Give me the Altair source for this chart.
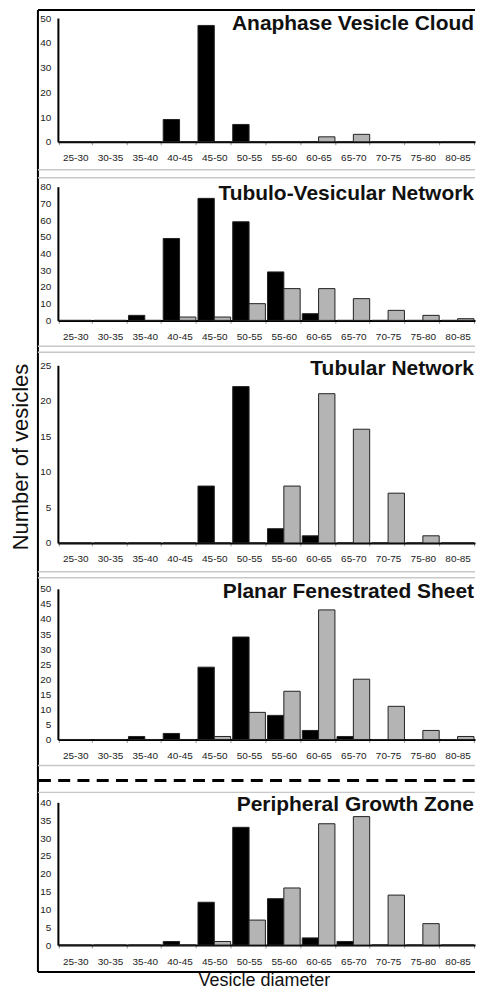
import altair as alt
import pandas as pd

categories = ["25-30", "30-35", "35-40", "40-45", "45-50", "50-55",
              "55-60", "60-65", "65-70", "70-75", "75-80", "80-85"]
series_names = ["black", "gray"]

titles = ["Anaphase Vesicle Cloud", "Tubulo-Vesicular Network", "Tubular Network",
          "Planar Fenestrated Sheet", "Peripheral Growth Zone"]

avc_black = [0, 0, 0, 9, 47, 7, 0, 0, 0, 0, 0, 0]
avc_gray = [0, 0, 0, 0, 0, 0, 0, 2, 3, 0, 0, 0]
tvn_black = [0, 0, 3, 49, 73, 59, 29, 4, 0, 0, 0, 0]
tvn_gray = [0, 0, 0, 2, 2, 10, 19, 19, 13, 6, 3, 1]
tn_black = [0, 0, 0, 0, 8, 22, 2, 1, 0, 0, 0, 0]
tn_gray = [0, 0, 0, 0, 0, 0, 8, 21, 16, 7, 1, 0]
pfs_black = [0, 0, 1, 2, 24, 34, 8, 3, 1, 0, 0, 0]
pfs_gray = [0, 0, 0, 0, 1, 9, 16, 43, 20, 11, 3, 1]
pgz_black = [0, 0, 0, 1, 12, 33, 13, 2, 1, 0, 0, 0]
pgz_gray = [0, 0, 0, 0, 1, 7, 16, 34, 36, 14, 6, 0]

y_max = [50, 80, 25, 50, 40]
y_step = [10, 10, 5, 5, 5]
x_title = "Vesicle diameter"
y_title = "Number of vesicles"

FONT = "Liberation Sans"
W = 418
heights = [124, 134, 178, 151, 143]
title_y = [12, 13, 10, 9, 9]


def panel_df(black, gray):
    rows = []
    for c, b, g in zip(categories, black, gray):
        rows.append({"cat": c, "series": "black", "count": b})
        rows.append({"cat": c, "series": "gray", "count": g})
    return pd.DataFrame(rows)


one = pd.DataFrame({"k": [0]})


def hrule(y, x0=-20, x1=W, color="#c8c8c8", width=1.5, dash=None):
    kw = dict(color=color, strokeWidth=width)
    if dash is not None:
        kw["strokeDash"] = dash
    return alt.Chart(one).mark_rule(**kw).encode(
        x=alt.value(x0), x2=alt.value(x1), y=alt.value(y))


def panel(i, black, gray):
    df = panel_df(black, gray)
    ymax = y_max[i]
    bars = alt.Chart(df).mark_bar(stroke="#222222", strokeWidth=1).encode(
        x=alt.X("cat:N", sort=categories,
                scale=alt.Scale(paddingInner=0.06, paddingOuter=0.03),
                axis=alt.Axis(title=None, labelAngle=0, domainColor="black",
                              domainWidth=2, tickColor="#999999", tickSize=3,
                              tickBand="extent", labelPadding=8, grid=False,
                              labelOverlap=False, labelFontSize=10,
                              labelFont=FONT, labelColor="#222222")),
        xOffset=alt.XOffset("series:N", sort=series_names,
                            scale=alt.Scale(paddingInner=0, paddingOuter=0)),
        y=alt.Y("count:Q", scale=alt.Scale(domain=[0, ymax], nice=False),
                axis=alt.Axis(title=None, values=list(range(0, ymax + 1, y_step[i])),
                              ticks=False, domainColor="black", domainWidth=2,
                              labelPadding=7, grid=False, labelFontSize=10,
                              labelFont=FONT, labelColor="#222222")),
        color=alt.Color("series:N", scale=alt.Scale(domain=series_names,
                                                    range=["#000000", "#b4b4b4"]),
                        legend=None),
    )
    ttl = alt.Chart(pd.DataFrame({"t": [titles[i]]})).mark_text(
        align="right", baseline="alphabetic", font=FONT, fontSize=21,
        fontWeight="bold", color="#111111").encode(
        text="t:N", x=alt.value(W - 1), y=alt.value(title_y[i]))
    return [bars, ttl]


p1 = panel(0, avc_black, avc_gray)
frame_left = alt.Chart(one).mark_rule(color="black", strokeWidth=2).encode(
    x=alt.value(-20), y=alt.value(-8), y2=alt.value(956))
frame_top = hrule(-8, color="black", width=2)
anchor = alt.Chart(one).mark_rule(color="white", strokeWidth=1).encode(
    x=alt.value(-49), y=alt.value(-7), y2=alt.value(-4))
c1 = alt.layer(*p1, frame_left, frame_top, anchor).properties(width=W, height=heights[0])

c2 = alt.layer(*panel(1, tvn_black, tvn_gray)).properties(width=W, height=heights[1])

ytitle = alt.Chart(pd.DataFrame({"t": [y_title]})).mark_text(
    angle=270, align="center", baseline="middle", font=FONT, fontSize=22,
    color="#111111").encode(text="t:N", x=alt.value(-37), y=alt.value(92))
c3 = alt.layer(*panel(2, tn_black, tn_gray), ytitle).properties(width=W, height=heights[2])

c4 = alt.layer(*panel(3, pfs_black, pfs_gray)).properties(width=W, height=heights[3])

frame_bottom = hrule(heights[4] + 27, color="black", width=2)
xtitle = alt.Chart(pd.DataFrame({"t": [x_title]})).mark_text(
    align="center", baseline="alphabetic", font=FONT, fontSize=18,
    color="#111111").encode(text="t:N", x=alt.value(207), y=alt.value(184))
c5 = alt.layer(*panel(4, pgz_black, pgz_gray), frame_bottom, xtitle).properties(
    width=W, height=heights[4])


def spacer(h, layers):
    return alt.layer(*layers).properties(width=W, height=h)


s1 = spacer(45, [hrule(28), hrule(36)])
s2 = spacer(45, [hrule(26), hrule(32)])
s3 = spacer(46, [hrule(29), hrule(35)])
s4 = spacer(63, [hrule(26), hrule(41, x0=-19, color="black", width=3, dash=[12, 7.3]),
                 hrule(53)])

chart = alt.vconcat(c1, s1, c2, s2, c3, s3, c4, s4, c5, spacing=0, bounds="flush").resolve_scale(
    x="independent", y="independent"
).properties(padding=0).configure_view(strokeWidth=0)

chart.save("out.html", embed_options={"renderer": "svg", "actions": False})
